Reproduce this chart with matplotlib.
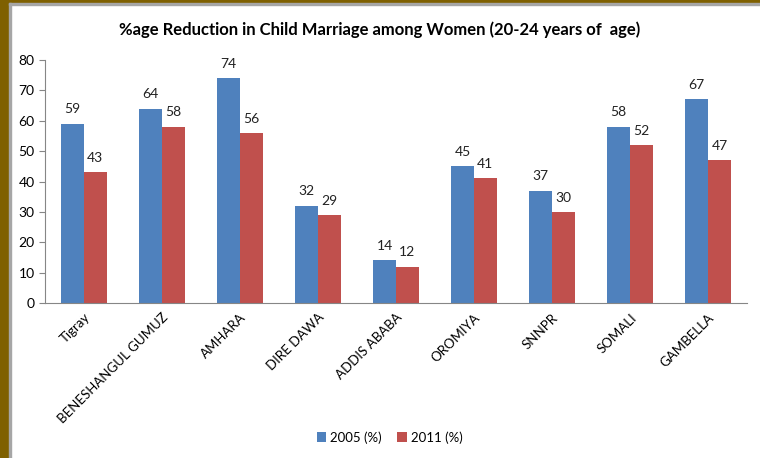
import numpy as np
import matplotlib.pyplot as plt
from matplotlib.patches import Rectangle

regions = ["Tigray", "BENESHANGUL GUMUZ", "AMHARA", "DIRE DAWA", "ADDIS ABABA",
           "OROMIYA", "SNNPR", "SOMALI", "GAMBELLA"]
y2005 = [59, 64, 74, 32, 14, 45, 37, 58, 67]
y2011 = [43, 58, 56, 29, 12, 41, 30, 52, 47]

plt.rcParams['font.family'] = ['Lato', 'DejaVu Sans']

fig = plt.figure(figsize=(7.6, 4.58), dpi=100)
ax = fig.add_axes([0.0592, 0.3384, 0.9238, 0.5306])

x = np.arange(len(regions))
w = 0.29
b1 = ax.bar(x - w / 2, y2005, w, color='#4F81BD', label='2005 (%)')
b2 = ax.bar(x + w / 2, y2011, w, color='#C0504D', label='2011 (%)')

for bars in (b1, b2):
    for r in bars:
        ax.annotate(str(int(r.get_height())), (r.get_x() + r.get_width() / 2, r.get_height()),
                    xytext=(0, 6), textcoords='offset points', ha='center', va='bottom',
                    fontsize=10, color='#222222')

ax.set_xlim(-0.5, len(regions) - 0.5)
ax.set_ylim(0, 80)
ax.set_yticks(range(0, 81, 10))
ax.set_xticks(x)
ax.set_xticklabels(regions, rotation=45, ha='right', rotation_mode='anchor', fontsize=9.5)
ax.tick_params(axis='x', length=0, pad=6)
ax.tick_params(axis='y', length=4, color='#868686', labelsize=10)
for s in ['top', 'right']:
    ax.spines[s].set_visible(False)
for s in ['left', 'bottom']:
    ax.spines[s].set_color('#868686')

fig.text(0.5, 0.935, '%age Reduction in Child Marriage among Women (20-24 years of  age)',
         ha='center', va='center', fontsize=12, fontweight='bold')

ax.legend(loc='center', bbox_to_anchor=(0.5125, 0.045), bbox_transform=fig.transFigure,
          ncol=2, frameon=False, fontsize=9.5, handlelength=0.7, handleheight=0.7,
          handletextpad=0.3, columnspacing=1.2)

# frame around the slide
fig.patches.append(Rectangle((0, 0), 9 / 760, 1, transform=fig.transFigure, color='#7F6000', zorder=0))
fig.patches.append(Rectangle((0, 1 - 3 / 458), 1, 3 / 458, transform=fig.transFigure, color='#7F6000', zorder=0))
fig.patches.append(Rectangle((9 / 760, 0), 1.5 / 760, 1 - 3 / 458, transform=fig.transFigure, color='#A6A6A6', zorder=0))
fig.patches.append(Rectangle((9 / 760, 1 - 4.5 / 458), 1, 1.5 / 458, transform=fig.transFigure, color='#A6A6A6', zorder=0))

fig.savefig('out.png', dpi=100)
